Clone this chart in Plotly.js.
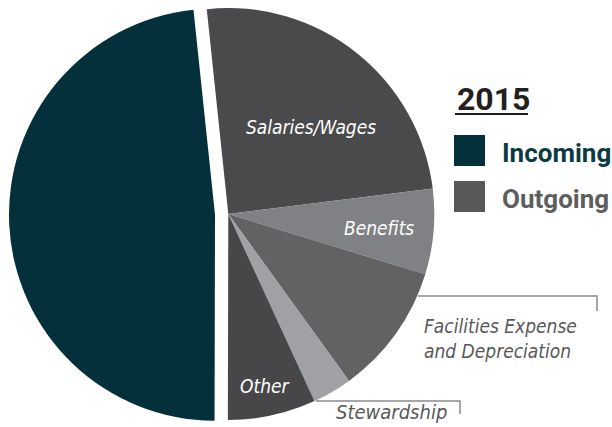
<!DOCTYPE html>
<html><head><meta charset="utf-8">
<script src="https://cdn.plot.ly/plotly-3.0.1.min.js"></script>
<style>html,body{margin:0;padding:0;background:#fff;}#chart{width:612px;height:427px;}</style>
</head><body><div id="chart"></div>
<script>
// ---- data ----
const categories = ['Salaries/Wages', 'Benefits', 'Facilities Expense and Depreciation', 'Stewardship', 'Other', 'Incoming'];
const groups = ['Outgoing', 'Outgoing', 'Outgoing', 'Outgoing', 'Outgoing', 'Incoming'];
const values = [24.7, 6.7, 10.3, 3.1, 6.9, 48.3];
const legendTitle = '2015';
const legendLabels = ['Incoming', 'Outgoing'];

// ---- styles ----
const W = 612, H = 427;
const sliceColors = ['#4a4a4c', '#808184', '#626264', '#a0a1a4', '#474749', '#03303a'];
const legendColors = {Incoming: '#03303a', Outgoing: '#58585a'};
const legendTextColors = {Incoming: '#0b3a41', Outgoing: '#5e5e60'};
const clear = 'rgba(0,0,0,0)';
const FONT = "'Liberation Sans Narrow', 'DejaVu Sans Condensed', 'Roboto', sans-serif";
const LEGEND_FONT = "'Roboto', 'Liberation Sans', sans-serif";

function px(x) { return x / W; }
function py(y) { return 1 - y / H; }

function pieTrace(group, cx, cy, r) {
  return {
    type: 'pie',
    labels: categories,
    values: values,
    sort: false,
    direction: 'clockwise',
    rotation: -6,
    textinfo: 'none',
    hoverinfo: 'skip',
    showlegend: false,
    marker: {
      colors: sliceColors.map((c, i) => groups[i] === group ? c : clear),
      line: {width: 0}
    },
    domain: {x: [px(cx - r), px(cx + r)], y: [py(cy + r), py(cy - r)]}
  };
}

const traces = [
  pieTrace('Outgoing', 228.3, 214, 206),
  pieTrace('Incoming', 215, 214.7, 206)
];

// slice labels
const labelPos = [
  {x: 311, y: 127, color: '#ffffff', size: 19},
  {x: 379, y: 228, color: '#ffffff', size: 19},
  {x: 500, y: 338, color: '#58595b', size: 19},
  {x: 392, y: 412, color: '#58595b', size: 20},
  {x: 265, y: 386, color: '#ffffff', size: 19},
  null
];

const annotations = [];
categories.forEach((c, i) => {
  const p = labelPos[i];
  if (!p) return;
  annotations.push({
    xref: 'paper', yref: 'paper', x: px(p.x), y: py(p.y),
    xanchor: 'center', yanchor: 'middle', showarrow: false,
    text: '<i>' + c.replace(' and ', '<br>and ') + '</i>',
    align: i === 2 ? 'left' : 'center',
    font: {family: FONT, size: p.size, color: p.color}
  });
});

// legend (title + entries)
annotations.push({
  xref: 'paper', yref: 'paper', x: px(455), y: py(99),
  xanchor: 'left', yanchor: 'middle', showarrow: false,
  text: '<b>' + legendTitle + '</b>',
  font: {family: LEGEND_FONT, size: 32, color: '#231f20'}
});
const shapes = [
  {type: 'line', xref: 'paper', yref: 'paper', x0: px(455), x1: px(528), y0: py(114), y1: py(114),
   line: {color: '#231f20', width: 2.2}}
];
legendLabels.forEach((g, k) => {
  const top = 135 + k * 46;
  shapes.push({type: 'rect', xref: 'paper', yref: 'paper',
    x0: px(454), x1: px(485), y0: py(top + 31), y1: py(top),
    fillcolor: legendColors[g], line: {width: 0}});
  annotations.push({
    xref: 'paper', yref: 'paper', x: px(500), y: py(top + 18),
    xanchor: 'left', yanchor: 'middle', showarrow: false,
    text: '<b>' + g + '</b>',
    font: {family: LEGEND_FONT, size: 26, color: legendTextColors[g]}
  });
});

// leader lines for outside labels
const leaderColor = '#8a8b8d';
shapes.push({type: 'path', xref: 'paper', yref: 'paper',
  path: `M ${px(418)} ${py(296)} L ${px(597)} ${py(296)} L ${px(597)} ${py(311)}`,
  line: {color: leaderColor, width: 1.5}});
shapes.push({type: 'path', xref: 'paper', yref: 'paper',
  path: `M ${px(316)} ${py(401)} L ${px(460)} ${py(401)} L ${px(460)} ${py(414)}`,
  line: {color: leaderColor, width: 1.5}});

const layout = {
  width: W, height: H,
  margin: {l: 0, r: 0, t: 0, b: 0},
  paper_bgcolor: '#ffffff',
  plot_bgcolor: '#ffffff',
  showlegend: false,
  annotations: annotations,
  shapes: shapes
};

Plotly.newPlot('chart', traces, layout, {displayModeBar: false, staticPlot: true});
</script>
</body></html>
